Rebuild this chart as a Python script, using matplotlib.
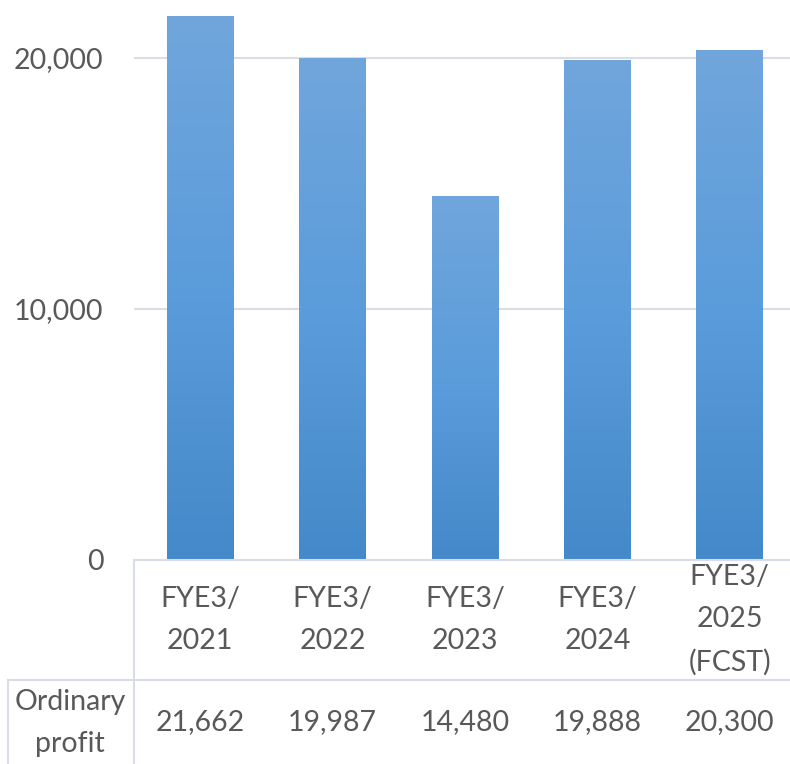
import matplotlib
matplotlib.use("Agg")
import matplotlib.pyplot as plt
import numpy as np
from matplotlib.colors import LinearSegmentedColormap

categories = ["FYE3/\n2021", "FYE3/\n2022", "FYE3/\n2023", "FYE3/\n2024", "FYE3/\n2025\n(FCST)"]
values = [21662, 19987, 14480, 19888, 20300]
value_labels = ["21,662", "19,987", "14,480", "19,888", "20,300"]
row_label = "Ordinary\nprofit"
yticks = [0, 10000, 20000]
ytick_labels = ["0", "10,000", "20,000"]

plt.rcParams['font.family'] = ['Lato', 'DejaVu Sans']
TXT = "#595959"
LINE = "#d9dee6"
FS = 20.5
LS = 1.75

W, H = 790, 764
fig = plt.figure(figsize=(W/100, H/100), dpi=100)
ax = fig.add_axes([134/W, (H-560)/H, (796-134)/W, 560/H])
ax.set_xlim(-0.5, 4.5)
ax.set_ylim(0, 22310)
for s in ax.spines.values():
    s.set_visible(False)
ax.set_xticks([])
ax.set_yticks(yticks)
ax.set_yticklabels(ytick_labels, fontsize=FS, color=TXT)
ax.tick_params(axis='y', length=0, pad=22)
for t in yticks[1:]:
    ax.axhline(t, color=LINE, lw=1.5, zorder=0)
ax.axhline(0, color=LINE, lw=1.5, zorder=3, clip_on=False)

cmap = LinearSegmentedColormap.from_list("g", ["#4489c9", "#5b9cdc", "#70a6db"])
x = np.arange(len(values))
bars = ax.bar(x, values, width=0.505, color="none", zorder=2)
grad = np.linspace(0, 1, 256).reshape(-1, 1)
for b in bars:
    x0, y0 = b.get_x(), b.get_y()
    ax.imshow(grad, cmap=cmap, origin="lower", aspect="auto",
              extent=[x0, x0 + b.get_width(), y0, y0 + b.get_height()], zorder=2)
ax.set_xlim(-0.5, 4.5)
ax.set_ylim(0, 22310)

tr = ax.get_xaxis_transform()
def ay(py):
    return (560 - py) / 560

# table lines
ax.plot([-0.5, -0.5], [0, ay(764)], transform=tr, color=LINE, lw=1.5, clip_on=False)
fig.add_artist(plt.Line2D([8/W, 1], [(H-680)/H]*2, color=LINE, lw=1.5))
fig.add_artist(plt.Line2D([8/W, 8/W], [(H-680)/H, 0], color=LINE, lw=1.5))

for i, (c, v) in enumerate(zip(categories, value_labels)):
    ax.text(i, ay(620), c, transform=tr, ha="center", va="center",
            fontsize=FS, color=TXT, linespacing=LS, clip_on=False)
    ax.text(i, ay(722), v, transform=tr, ha="center", va="center",
            fontsize=FS, color=TXT, clip_on=False)
fig.text(70/W, (H-723)/H, row_label, ha="center", va="center", fontsize=FS,
         color=TXT, linespacing=LS)

fig.savefig("out.png", dpi=100)
